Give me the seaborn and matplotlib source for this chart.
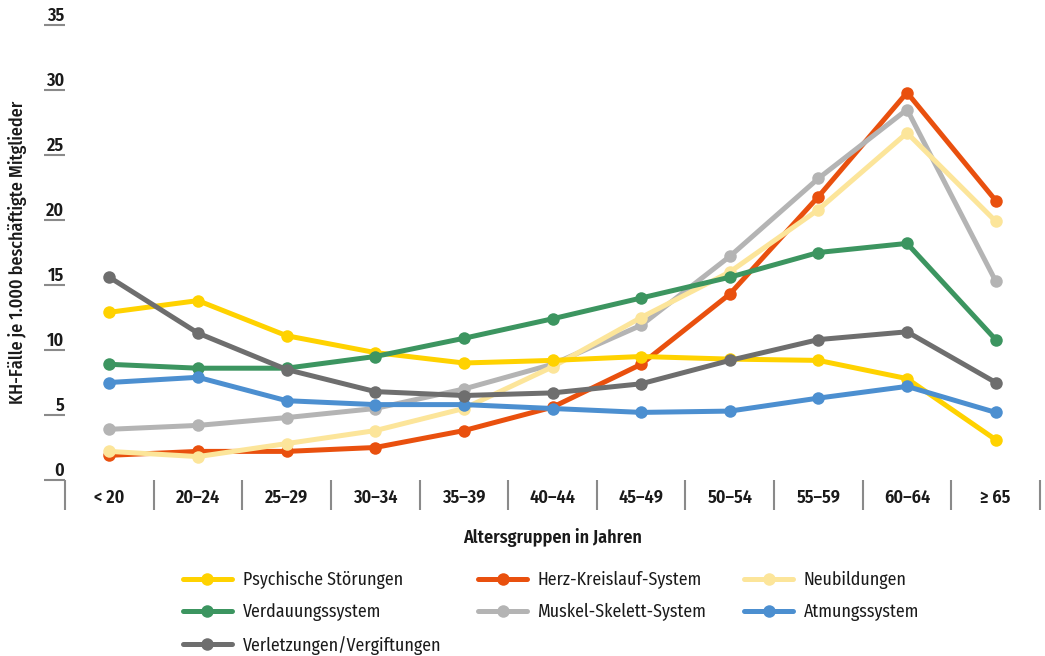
import matplotlib
matplotlib.use("Agg")
import matplotlib.pyplot as plt
from matplotlib.ticker import FixedLocator
import seaborn as sns
import pandas as pd

# Age groups on the x axis
altersgruppen = ["< 20", "20–24", "25–29", "30–34", "35–39", "40–44",
                 "45–49", "50–54", "55–59", "60–64", "≥ 65"]

# Hospital cases per 1,000 employed members, by diagnosis group
psychische = [12.9, 13.8, 11.1, 9.8, 9.0, 9.2, 9.5, 9.3, 9.2, 7.8, 3.1]
herz_kreislauf = [1.9, 2.2, 2.2, 2.5, 3.8, 5.6, 8.9, 14.3, 21.8, 29.8, 21.5]
neubildungen = [2.2, 1.8, 2.8, 3.8, 5.5, 8.7, 12.5, 16.0, 20.8, 26.7, 19.9]
verdauung = [8.9, 8.6, 8.6, 9.5, 10.9, 12.4, 14.0, 15.6, 17.5, 18.2, 10.8]
muskel_skelett = [3.9, 4.2, 4.8, 5.5, 7.0, 8.9, 11.9, 17.2, 23.2, 28.5, 15.3]
atmung = [7.5, 7.9, 6.1, 5.8, 5.8, 5.5, 5.2, 5.3, 6.3, 7.2, 5.2]
verletzungen = [15.6, 11.3, 8.5, 6.8, 6.5, 6.7, 7.4, 9.2, 10.8, 11.4, 7.5]

serien = {
    "Psychische Störungen": psychische,
    "Herz-Kreislauf-System": herz_kreislauf,
    "Neubildungen": neubildungen,
    "Verdauungssystem": verdauung,
    "Muskel-Skelett-System": muskel_skelett,
    "Atmungssystem": atmung,
    "Verletzungen/Vergiftungen": verletzungen,
}

farben = {
    "Psychische Störungen": "#FFD200",
    "Herz-Kreislauf-System": "#E9500E",
    "Neubildungen": "#FCE59A",
    "Verdauungssystem": "#3C9560",
    "Muskel-Skelett-System": "#B4B4B4",
    "Atmungssystem": "#4C8FD0",
    "Verletzungen/Vergiftungen": "#6E6E6E",
}

# drawing order (later series on top)
zeichenfolge = ["Herz-Kreislauf-System", "Muskel-Skelett-System", "Neubildungen",
                "Psychische Störungen", "Verdauungssystem", "Atmungssystem",
                "Verletzungen/Vergiftungen"]
# legend order, filled column by column for a 3-column row-wise layout
legendenfolge = ["Psychische Störungen", "Verdauungssystem", "Verletzungen/Vergiftungen",
                 "Herz-Kreislauf-System", "Muskel-Skelett-System",
                 "Neubildungen", "Atmungssystem"]

rows = []
for name, werte in serien.items():
    for gruppe, w in zip(altersgruppen, werte):
        rows.append({"Altersgruppe": gruppe, "Wert": w, "Diagnose": name})
df = pd.DataFrame(rows)

sns.set_theme(style="white")
plt.rcParams["font.family"] = ["Fira Sans Condensed", "Roboto Condensed", "DejaVu Sans"]

fig = plt.figure(figsize=(10.45, 6.56), dpi=100)
ax = fig.add_axes([65 / 1045, 1 - 480 / 656, 975 / 1045, 455 / 656])

sns.lineplot(data=df, x="Altersgruppe", y="Wert", hue="Diagnose",
             hue_order=zeichenfolge, palette=farben, sort=False,
             marker="o", markersize=9, markeredgewidth=0, linewidth=3.6,
             ax=ax)

ax.set_xlim(-0.5, len(altersgruppen) - 0.5)
ax.set_ylim(0, 35)
for s in ax.spines.values():
    s.set_visible(False)

text_farbe = "#1a1a1a"
tick_grau = "#8A8A8A"
ax.set_yticks(range(0, 36, 5))
ax.tick_params(axis="y", which="major", left=True, length=15, width=1.5,
               color=tick_grau, pad=-14.6, labelsize=13, labelcolor=text_farbe)
for lbl in ax.get_yticklabels():
    lbl.set_verticalalignment("bottom")
    lbl.set_fontweight("semibold")

ax.set_xticks(range(len(altersgruppen)))
ax.set_xticklabels(altersgruppen)
ax.xaxis.set_minor_locator(FixedLocator([i - 0.5 for i in range(len(altersgruppen) + 1)]))
ax.tick_params(axis="x", which="major", bottom=True, length=0, pad=6.5,
               labelsize=13, labelcolor=text_farbe)
ax.tick_params(axis="x", which="minor", bottom=True, length=21.6, width=1.5,
               color=tick_grau)
for lbl in ax.get_xticklabels():
    lbl.set_fontweight("semibold")

ax.set_xlabel("Altersgruppen in Jahren", fontsize=13, fontweight="semibold",
              color=text_farbe, va="top")
ax.xaxis.set_label_coords(0.5, (480 - 528) / 455)
ax.set_ylabel("KH-Fälle je 1.000 beschäftigte Mitglieder", fontsize=13,
              fontweight="medium", color=text_farbe, va="center")
ax.yaxis.set_label_coords((18 - 65) / 975, 0.5)

handles, labels = ax.get_legend_handles_labels()
ax.get_legend().remove()
by_label = dict(zip(labels, handles))
leg = fig.legend([by_label[n] for n in legendenfolge], legendenfolge,
                 loc="upper left", bbox_to_anchor=(183 / 1045, 1 - 571 / 656),
                 ncol=3, frameon=False, fontsize=12.8, handlelength=2.75,
                 handletextpad=0.6, columnspacing=2.1, labelspacing=0.8,
                 borderaxespad=0, borderpad=0)
for t in leg.get_texts():
    t.set_color(text_farbe)
for h in leg.legend_handles:
    h.set_linewidth(3.6)
    h.set_marker("o")
    h.set_markersize(9)
    h.set_markeredgewidth(0)

fig.savefig("out.png", dpi=100)
